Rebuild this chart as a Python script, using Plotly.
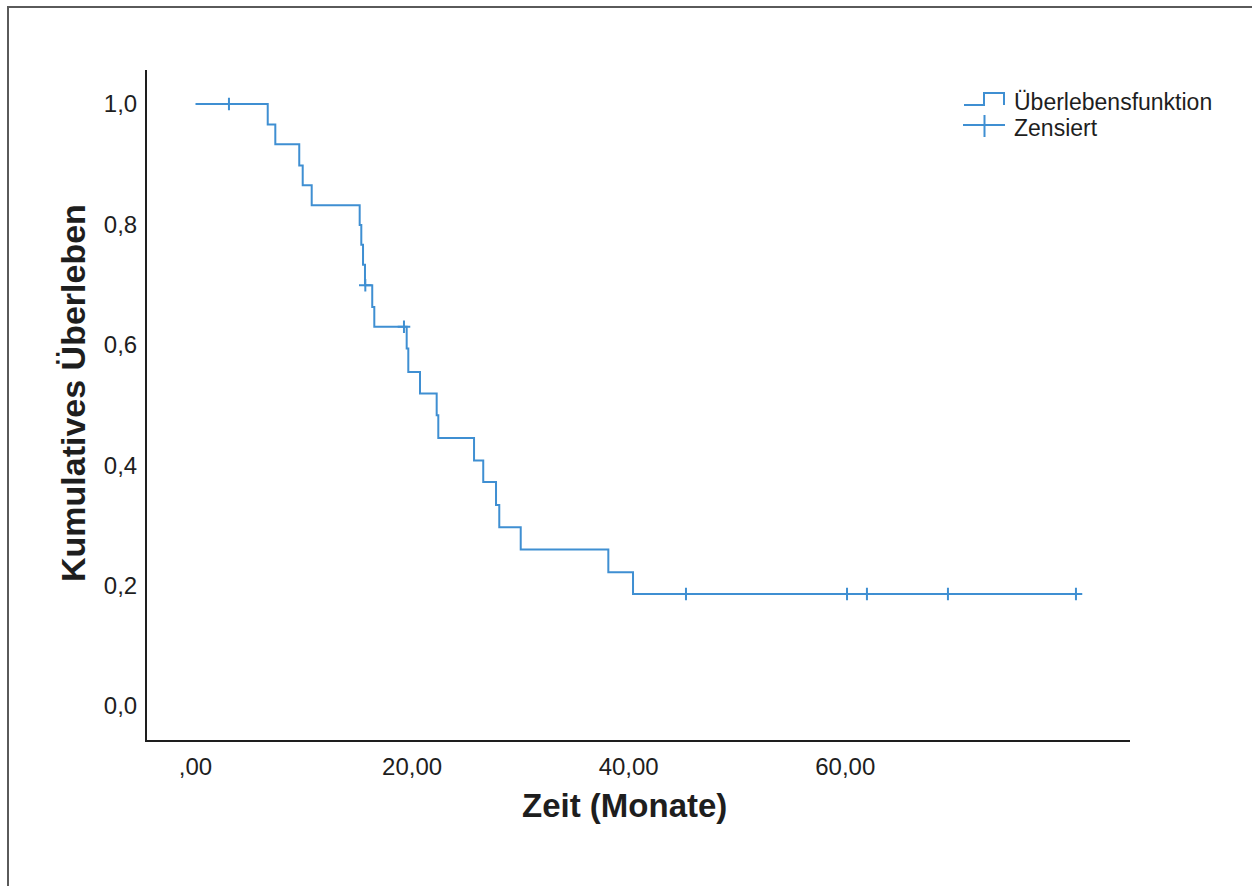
import plotly.graph_objects as go

# ---- data ----
event_times = [6.67, 7.37, 9.58, 9.90, 10.73, 15.16, 15.31, 15.47, 15.65, 16.32, 16.51,
               19.50, 19.65, 20.73, 22.27, 22.42, 25.72, 26.57, 27.75, 28.05, 30.03,
               38.12, 40.40]
survival = [0.966, 0.933, 0.898, 0.865, 0.832, 0.799, 0.766, 0.733, 0.699, 0.663, 0.630,
            0.594, 0.555, 0.519, 0.483, 0.445, 0.408, 0.372, 0.334, 0.297, 0.260,
            0.222, 0.186]
censor_times = [3.09, 15.68, 19.25, 45.29, 60.16, 62.00, 69.48, 81.30]

x_tickvals = [0, 20, 40, 60]
x_ticktext = [",00", "20,00", "40,00", "60,00"]
y_tickvals = [0.0, 0.2, 0.4, 0.6, 0.8, 1.0]
y_ticktext = ["0,0", "0,2", "0,4", "0,6", "0,8", "1,0"]

x_title = "Zeit (Monate)"
y_title = "Kumulatives Überleben"
legend_labels = ["Überlebensfunktion", "Zensiert"]

# ---- derived ----
def surv_at(t):
    s = 1.0
    for et, sv in zip(event_times, survival):
        if et <= t:
            s = sv
    return s

curve_x = [0.0] + event_times + [censor_times[-1]]
curve_y = [1.0] + survival + [survival[-1]]
censor_y = [surv_at(t) for t in censor_times]

BLUE = "#3f8fd2"
TXT = "#1e1e1e"
FONT = "Liberation Sans, Arial, sans-serif"

fig = go.Figure()
fig.add_trace(go.Scatter(
    x=curve_x, y=curve_y, mode="lines", line=dict(color=BLUE, width=2, shape="hv"),
    name=legend_labels[0], showlegend=False, hoverinfo="skip"))
fig.add_trace(go.Scatter(
    x=censor_times, y=censor_y, mode="markers",
    marker=dict(symbol="cross-thin", size=9, line=dict(color=BLUE, width=2)),
    name=legend_labels[1], showlegend=False, hoverinfo="skip"))

# paper-coordinate helpers for the layout decorations
def px(xp):
    return (xp - 147) / 983.0

def py(yp):
    return (740 - yp) / 670.0

shapes = [
    # outer frame
    dict(type="rect", xref="paper", yref="paper", x0=px(8), y0=py(900), x1=px(1270), y1=py(7),
         line=dict(color="#5a5a5a", width=2), fillcolor="rgba(0,0,0,0)", layer="below"),
    # step legend icon
    dict(type="path", xref="paper", yref="paper",
         path=f"M {px(964)},{py(105)} L {px(984)},{py(105)} L {px(984)},{py(93)} "
              f"L {px(1004)},{py(93)} L {px(1004)},{py(105)}",
         line=dict(color=BLUE, width=2)),
    # censor legend icon
    dict(type="line", xref="paper", yref="paper", x0=px(963), x1=px(1005), y0=py(125), y1=py(125),
         line=dict(color=BLUE, width=2)),
    dict(type="line", xref="paper", yref="paper", x0=px(984.5), x1=px(984.5), y0=py(115), y1=py(137),
         line=dict(color=BLUE, width=2)),
]

annotations = [
    dict(xref="paper", yref="paper", x=px(1012), y=py(102), xanchor="left", yanchor="middle",
         text=legend_labels[0], showarrow=False, font=dict(family=FONT, size=23, color=TXT)),
    dict(xref="paper", yref="paper", x=px(1012), y=py(128), xanchor="left", yanchor="middle",
         text=legend_labels[1], showarrow=False, font=dict(family=FONT, size=23, color=TXT)),
    # axis titles
    dict(xref="paper", yref="paper", x=px(624.5), y=py(805), xanchor="center", yanchor="middle",
         text=x_title, showarrow=False,
         font=dict(family=FONT, size=33, color=TXT, weight="bold")),
    dict(xref="paper", yref="paper", x=px(73), y=py(393), xanchor="center", yanchor="middle",
         text=y_title, showarrow=False, textangle=-90,
         font=dict(family=FONT, size=34, color=TXT, weight="bold")),
]

fig.update_layout(
    width=1252, height=886, autosize=False,
    margin=dict(l=147, r=122, t=70, b=146),
    paper_bgcolor="white", plot_bgcolor="white",
    showlegend=False,
    shapes=shapes, annotations=annotations,
    font=dict(family=FONT, color=TXT),
)
fig.update_xaxes(
    range=[-4.478, 86.29], showgrid=False, zeroline=False,
    showline=True, linecolor="#1e1e1e", linewidth=2,
    ticks="", tickvals=x_tickvals, ticktext=x_ticktext,
    tickfont=dict(family=FONT, size=24, color=TXT), ticklabelstandoff=4,
    automargin=False,
)
fig.update_yaxes(
    range=[-0.0565, 1.0565], showgrid=False, zeroline=False,
    showline=True, linecolor="#1e1e1e", linewidth=2,
    ticks="", tickvals=y_tickvals, ticktext=y_ticktext,
    tickfont=dict(family=FONT, size=24, color=TXT), ticklabelstandoff=3,
    automargin=False,
)

fig.write_html("out.html")
